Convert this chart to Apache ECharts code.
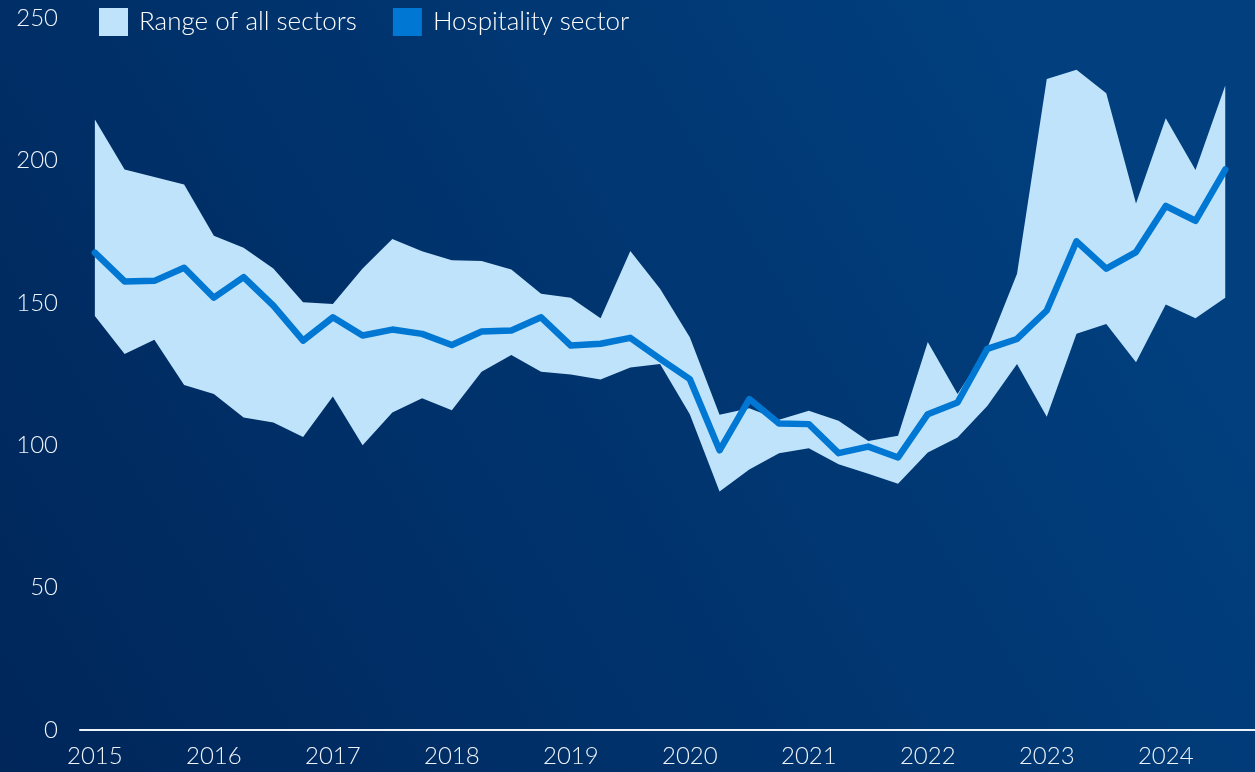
<!DOCTYPE html>
<html>
<head>
<meta charset="utf-8">
<script src="https://cdn.jsdelivr.net/npm/echarts@6/dist/echarts.min.js"></script>
<style>
  html, body { margin: 0; padding: 0; }
  #chart { width: 1255px; height: 772px; }
</style>
</head>
<body>
<div id="chart"></div>
<script>
// Quarterly index values, 2015 Q1 to 2024 Q3
const startYear = 2015;
const yearTicks = [2015, 2016, 2017, 2018, 2019, 2020, 2021, 2022, 2023, 2024];
const yTicks = [0, 50, 100, 150, 200, 250];

// Upper and lower edge of the range across all sectors
const rangeHigh = [214.4, 196.8, 194.2, 191.5, 173.5, 169.3, 162, 150.2, 149.6, 162,
  172.4, 168.1, 164.9, 164.7, 161.7, 153.2, 151.8, 144.6, 168.2, 154.9,
  137.9, 110.7, 113, 108.9, 112.1, 108.6, 101.5, 103.3, 136.2, 118,
  134, 160.2, 228.6, 231.8, 223.6, 184.9, 214.8, 196.6, 226.3];
const rangeLow = [145.4, 132, 137, 121.1, 118, 109.7, 108, 102.9, 117.1, 100,
  111.5, 116.5, 112.3, 125.8, 131.7, 125.8, 124.8, 123.1, 127.3, 128.5,
  110.9, 83.7, 91.5, 97.2, 98.9, 93.3, 90, 86.5, 97.4, 102.7,
  113.8, 128.5, 110, 139.1, 142.6, 129.1, 149.4, 144.6, 151.8];
// Hospitality sector
const hospitality = [167.6, 157.5, 157.7, 162.3, 151.8, 159, 149, 136.7, 144.9, 138.5,
  140.6, 139.1, 135.2, 139.9, 140.3, 144.9, 135, 135.6, 137.7, 130.3,
  123.2, 98.2, 116.2, 107.6, 107.4, 97.2, 99.5, 95.7, 110.9, 115,
  133.8, 137.3, 147.3, 171.6, 162, 167.8, 184, 178.8, 196.8];

const quarterX = i => startYear + i * 0.25;
const hospPts = hospitality.map((v, i) => [quarterX(i), v]);

const FONT = 'Lato, "Open Sans", sans-serif';
const BAND = '#bee3fa';
const LINE = '#0077d3';

// Band polygon: along the upper edge, then back along the lower edge
function renderBand(params, api) {
  const pts = [];
  for (let i = 0; i < rangeHigh.length; i++) pts.push(api.coord([quarterX(i), rangeHigh[i]]));
  for (let i = rangeLow.length - 1; i >= 0; i--) pts.push(api.coord([quarterX(i), rangeLow[i]]));
  return {
    type: 'polygon',
    shape: { points: pts },
    style: { fill: BAND }
  };
}

const chart = echarts.init(document.getElementById('chart'), null, { renderer: 'canvas' });
chart.setOption({
  animation: false,
  backgroundColor: new echarts.graphic.LinearGradient(0, 1, 0.85, 0.15, [
    { offset: 0, color: '#00265a' },
    { offset: 1, color: '#013f7e' }
  ]),
  grid: { left: 80, right: 0, top: 18, bottom: 42, containLabel: false },
  legend: {
    left: 99, top: 8, padding: 0,
    itemWidth: 29, itemHeight: 28, itemGap: 36,
    textStyle: { color: '#ffffff', fontSize: 26, fontFamily: FONT, fontWeight: 300, padding: [0, 0, 0, 6] },
    data: [
      { name: 'Range of all sectors', icon: 'rect', itemStyle: { color: BAND } },
      { name: 'Hospitality sector', icon: 'rect', itemStyle: { color: LINE } }
    ]
  },
  xAxis: {
    type: 'value',
    min: 2014.875, max: 2024.75,
    splitLine: { show: false },
    axisTick: { show: false },
    axisLine: { show: true, onZero: false, lineStyle: { color: '#eef3f8', width: 2 } },
    axisLabel: {
      customValues: yearTicks,
      formatter: v => String(v),
      color: '#eef3f8', fontSize: 24, fontFamily: FONT, fontWeight: 300, margin: 14
    }
  },
  yAxis: {
    type: 'value',
    min: 0, max: 250, interval: 50,
    splitLine: { show: false },
    axisLine: { show: false },
    axisTick: { show: false },
    axisLabel: {
      customValues: yTicks,
      color: '#eef3f8', fontSize: 24, fontFamily: FONT, fontWeight: 300, margin: 22
    }
  },
  series: [
    {
      name: 'Range of all sectors', type: 'custom',
      data: [[quarterX(0), rangeHigh[0]]],
      renderItem: renderBand,
      itemStyle: { color: BAND }, z: 2
    },
    {
      name: 'Hospitality sector', type: 'line', data: hospPts,
      symbol: 'none', itemStyle: { color: LINE },
      lineStyle: { color: LINE, width: 6.5, join: 'round', cap: 'round' }, z: 3
    }
  ]
});
</script>
</body>
</html>
